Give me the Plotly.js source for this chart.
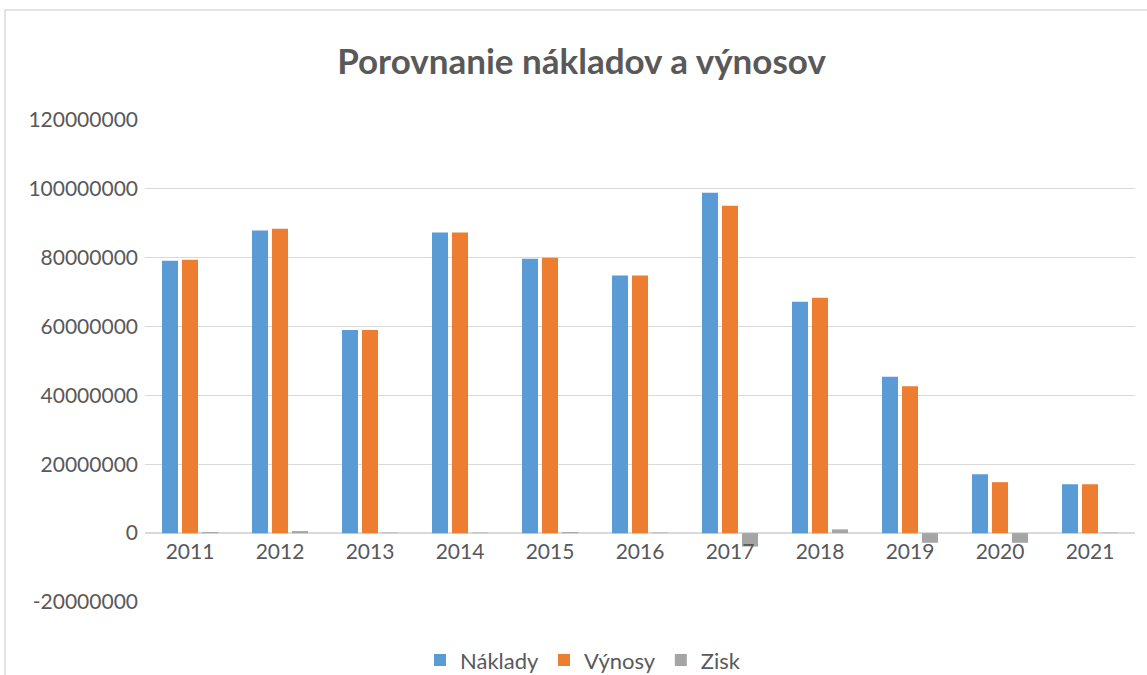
<!DOCTYPE html>
<html><head><meta charset="utf-8">
<script src="https://cdn.plot.ly/plotly-3.0.1.min.js"></script>
<style>html,body{margin:0;padding:0;background:#fff}#chart{width:1147px;height:675px}</style>
</head><body><div id="chart"></div>
<script>
const years = ['2011','2012','2013','2014','2015','2016','2017','2018','2019','2020','2021'];
const naklady = [79100000, 87900000, 59000000, 87300000, 79700000, 74800000, 98900000, 67200000, 45400000, 17100000, 14200000];
const vynosy  = [79400000, 88400000, 59000000, 87300000, 80000000, 74800000, 95100000, 68400000, 42700000, 14800000, 14200000];
const zisk    = [300000, 600000, 150000, 150000, 300000, 150000, -3900000, 1100000, -2800000, -2800000, 150000];
const yTicks = [-20000000, 0, 20000000, 40000000, 60000000, 80000000, 100000000, 120000000];

const font = {family: 'Lato, "Open Sans", sans-serif', size: 21, color: '#595959'};
const legendFont = {family: 'Lato, "Open Sans", sans-serif', size: 22, color: '#595959'};
const traces = [
  {type:'bar', name:'Náklady', x:years, y:naklady, marker:{color:'#5B9BD5'}},
  {type:'bar', name:'Výnosy', x:years, y:vynosy, marker:{color:'#ED7D31'}},
  {type:'bar', name:'Zisk', x:years, y:zisk, marker:{color:'#A5A5A5'}}
];
const layout = {
  width:1147, height:675,
  margin:{l:145, r:12, t:120, b:73, autoexpand:false},
  paper_bgcolor:'#fff', plot_bgcolor:'#fff',
  font: font,
  title:{text:'Porovnanie nákladov a výnosov', font:{family:'Lato, sans-serif', size:35, color:'#595959', weight:'bold'}, x:0.507, xanchor:'center', y:0.908, yanchor:'middle'},
  barmode:'group', bargap:0.333, bargroupgap:0.2,
  xaxis:{type:'category', tickfont:font, showgrid:false, showline:false, ticks:'', anchor:'free', position:20/140, ticklabelstandoff:4, fixedrange:true},
  yaxis:{range:[-20000000,120000000], tickvals:yTicks, ticktext:yTicks.map(v=>String(v)), tickfont:font,
         gridcolor:'#d9d9d9', gridwidth:1, zeroline:true, zerolinecolor:'#d9d9d9', zerolinewidth:2,
         showline:false, ticks:'', ticklabelstandoff:6},
  showlegend:true,
  legend:{orientation:'h', x:(583-145)/990, xanchor:'center', yref:'container', y:0.022, yanchor:'middle', font:legendFont, itemwidth:30, traceorder:'normal'},
  shapes:[{type:'rect', xref:'paper', yref:'paper', x0:-0.1414, x1:1.2, y0:-0.5, y1:1.228, line:{color:'#d9d9d9', width:1.5}, layer:'below'}]
};
Plotly.newPlot('chart', traces, layout, {displayModeBar:false, staticPlot:true});
</script></body></html>
